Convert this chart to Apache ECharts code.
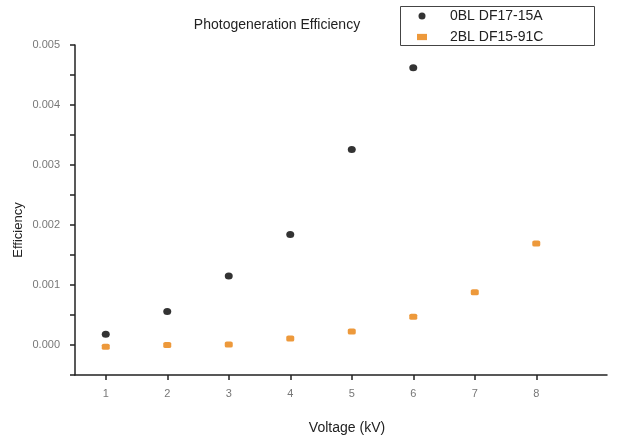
<!DOCTYPE html>
<html>
<head>
<meta charset="utf-8">
<script src="https://cdn.jsdelivr.net/npm/echarts@6/dist/echarts.min.js"></script>
<style>html,body{margin:0;padding:0;background:#fff}#c{width:624px;height:440px}</style>
</head>
<body>
<div id="c"></div>
<script>
var voltageA = [1, 2, 3, 4, 5, 6];
var effA = [0.00018, 0.00056, 0.00115, 0.00184, 0.00326, 0.00462];
var voltageB = [1, 2, 3, 4, 5, 6, 7, 8];
var effB = [-0.00003, 0.0, 0.00001, 0.00011, 0.000225, 0.00047, 0.00088, 0.00169];
var xTickLabels = [1, 2, 3, 4, 5, 6, 7, 8];
var yTickLabels = [0, 0.001, 0.002, 0.003, 0.004, 0.005];
var yTicks = [-0.0005, 0, 0.0005, 0.001, 0.0015, 0.002, 0.0025, 0.003, 0.0035, 0.004, 0.0045, 0.005];
var nameA = '0BL DF17-15A';
var nameB = '2BL DF15-91C';

function pairs(xs, ys) { return xs.map(function (x, i) { return [x, ys[i]]; }); }

var chart = echarts.init(document.getElementById('c'), null, {renderer: 'canvas'});
var font = 'Liberation Sans, Arial, sans-serif';
chart.setOption({
  backgroundColor: '#fff',
  animation: false,
  title: {
    text: 'Photogeneration Efficiency',
    left: 272, top: 13, textAlign: 'center',
    textStyle: {fontSize: 14, fontWeight: 'normal', color: '#222', fontFamily: font}
  },
  legend: {
    orient: 'vertical', left: 417, top: 9, itemGap: 7,
    itemWidth: 10, itemHeight: 7, padding: 0,
    textStyle: {fontSize: 14, color: '#222', fontFamily: font, padding: [0, 0, 0, 18]},
    data: [
      {name: nameA, icon: 'circle'},
      {name: nameB, icon: 'path://M0,0h8v5h-8z'}
    ]
  },
  graphic: [{
    type: 'rect', left: 398, top: 4,
    shape: {width: 194, height: 39},
    style: {fill: 'none', stroke: '#444', lineWidth: 1}
  }],
  grid: {left: 75, right: 17, top: 45, bottom: 64, containLabel: false},
  xAxis: {
    type: 'value', min: 0.5, max: 9.15,
    name: 'Voltage (kV)', nameLocation: 'middle', nameGap: 46,
    nameTextStyle: {fontSize: 14, color: '#222', fontFamily: font, padding: [0, 0, 0, 12]},
    axisLine: {show: true, onZero: false, lineStyle: {color: '#222', width: 1.5}},
    axisTick: {show: true, length: 5, customValues: xTickLabels, lineStyle: {color: '#222', width: 1.5}},
    axisLabel: {customValues: xTickLabels, margin: 13, fontSize: 11, color: '#777', fontFamily: font},
    splitLine: {show: false}
  },
  yAxis: {
    type: 'value', min: -0.0005, max: 0.005,
    name: 'Efficiency', nameLocation: 'middle', nameGap: 50, nameRotate: 90,
    nameMoveOverlap: false,
    nameTextStyle: {fontSize: 13, color: '#222', fontFamily: font, padding: [0, 40, 0, 0]},
    axisLine: {show: true, onZero: false, lineStyle: {color: '#222', width: 1.5}},
    axisTick: {show: true, length: 5, customValues: yTicks, lineStyle: {color: '#222', width: 1.5}},
    axisLabel: {
      customValues: yTickLabels, margin: 15, fontSize: 11, color: '#777', fontFamily: font,
      formatter: function (v) { return v.toFixed(3); }
    },
    splitLine: {show: false}
  },
  series: [
    {
      name: nameA, type: 'scatter', data: pairs(voltageA, effA),
      symbol: 'circle', symbolSize: [8, 7],
      itemStyle: {color: '#000'}
    },
    {
      name: nameB, type: 'scatter', data: pairs(voltageB, effB),
      symbol: 'roundRect', symbolSize: [8, 6],
      itemStyle: {color: '#e8800a'}
    }
  ]
});
</script>
</body>
</html>
